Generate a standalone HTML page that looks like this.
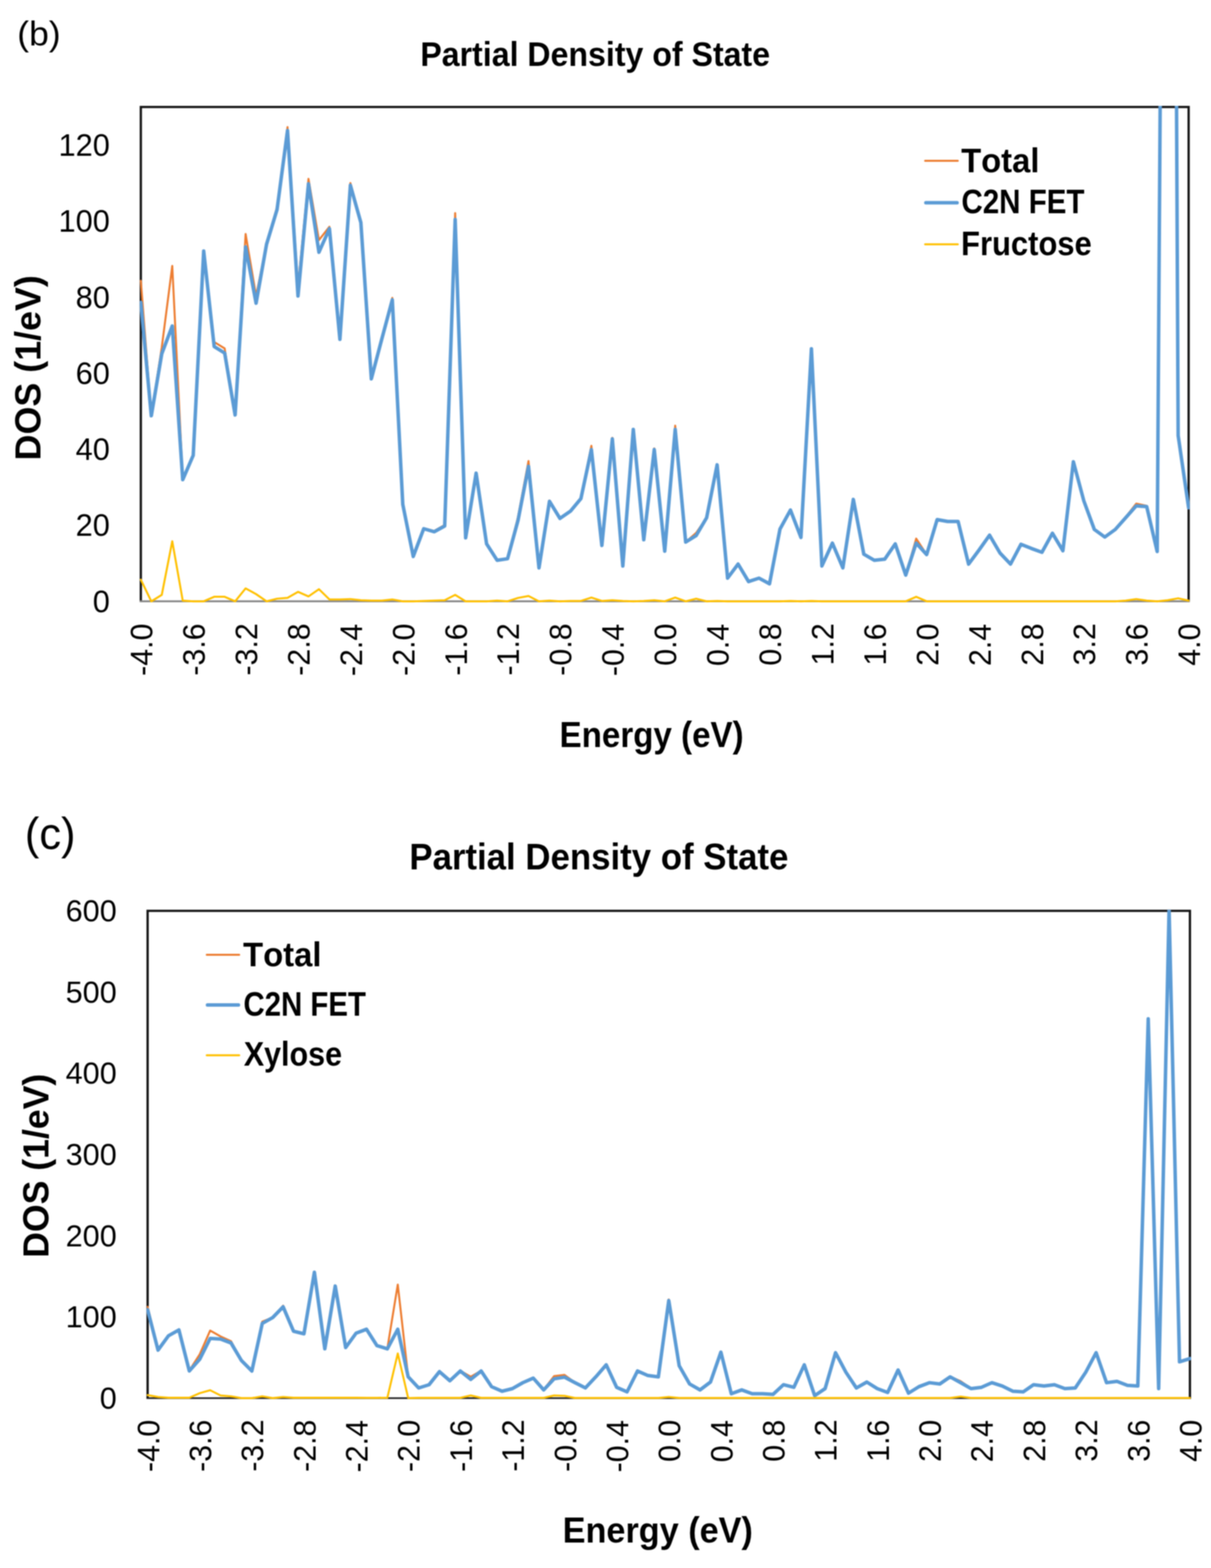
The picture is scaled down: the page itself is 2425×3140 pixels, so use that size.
<!DOCTYPE html>
<html><head><meta charset="utf-8"><title>Partial Density of State</title>
<style>html,body{margin:0;padding:0;background:#fff;}svg{display:block;filter:blur(1px);} text{font-family:'Liberation Sans', Arial, sans-serif;font-kerning:none;fill:#000;}</style>
</head><body>
<svg width="2425" height="3140" viewBox="0 0 2425 3140">
<rect width="2425" height="3140" fill="#fff"/>
<clipPath id="cb"><rect x="279.70" y="211.90" width="2102.80" height="1004.30"/></clipPath>
<path d="M282.00 1204.20V214.20H2380.20V1204.20" fill="none" stroke="#141414" stroke-width="4.60" stroke-linejoin="miter"/>
<line x1="279.70" y1="1204.20" x2="2382.50" y2="1204.20" stroke="#878787" stroke-width="3.80"/>
<g clip-path="url(#cb)" fill="none" stroke-linejoin="round" stroke-linecap="round">
<polyline points="282.00,562.22 302.98,832.57 323.96,695.49 344.95,532.52 365.93,958.98 386.91,911.77 407.89,502.82 428.87,684.83 449.86,697.78 470.84,831.05 491.82,468.55 512.80,592.68 533.78,489.12 554.77,414.48 575.75,254.56 596.73,573.65 617.71,358.13 638.69,480.74 659.68,454.08 680.66,675.69 701.64,366.51 722.62,443.42 743.60,757.18 764.59,677.22 785.57,596.49 806.55,1010.01 827.53,1114.34 848.51,1057.98 869.50,1063.32 890.48,1051.13 911.46,426.67 932.44,1077.02 953.42,947.56 974.41,1089.21 995.39,1120.43 1016.37,1118.91 1037.35,1035.14 1058.33,923.19 1079.32,1137.18 1100.30,1002.39 1121.28,1038.18 1142.26,1022.95 1163.24,997.82 1184.23,892.73 1205.21,1091.49 1226.19,876.74 1247.17,1132.62 1268.15,859.98 1289.14,1080.07 1310.12,898.06 1331.10,1103.68 1352.08,852.37 1373.06,1085.40 1394.05,1067.12 1415.03,1036.66 1436.01,930.05 1456.99,1157.75 1477.97,1129.57 1498.96,1164.60 1519.94,1157.75 1540.92,1169.17 1561.90,1059.51 1582.88,1020.67 1603.87,1076.26 1624.85,697.78 1645.83,1133.38 1666.81,1087.68 1687.79,1137.18 1708.78,1000.11 1729.76,1109.77 1750.74,1121.95 1771.72,1119.67 1792.70,1089.21 1813.69,1151.65 1834.67,1078.55 1855.65,1110.53 1876.63,1040.47 1897.61,1044.28 1918.60,1044.28 1939.58,1129.57 1960.56,1101.39 1981.54,1071.69 2002.52,1107.48 2023.51,1129.57 2044.49,1089.97 2065.47,1098.35 2086.45,1105.96 2107.43,1067.88 2128.42,1102.92 2149.40,924.72 2170.38,1003.15 2191.36,1060.27 2212.34,1075.50 2233.33,1060.27 2254.31,1035.14 2275.29,1008.48 2296.27,1013.05 2317.25,1104.44 2323.60,150.00 2355.70,150.00 2359.22,866.08 2380.20,1015.34" stroke="#ED7D31" stroke-width="4.0"/>
<polyline points="282.00,605.63 302.98,832.57 323.96,708.44 344.95,652.85 365.93,960.51 386.91,911.77 407.89,502.82 428.87,693.97 449.86,706.92 470.84,831.05 491.82,494.45 512.80,607.15 533.78,489.12 554.77,419.82 575.75,261.42 596.73,592.68 617.71,368.03 638.69,505.11 659.68,457.89 680.66,679.50 701.64,371.08 722.62,445.71 743.60,758.70 764.59,678.74 785.57,600.30 806.55,1010.01 827.53,1114.34 848.51,1058.75 869.50,1064.84 890.48,1053.42 911.46,439.62 932.44,1077.02 953.42,947.56 974.41,1089.21 995.39,1121.95 1016.37,1118.91 1037.35,1041.99 1058.33,933.85 1079.32,1137.18 1100.30,1003.92 1121.28,1038.18 1142.26,1023.72 1163.24,998.58 1184.23,900.35 1205.21,1092.25 1226.19,879.02 1247.17,1133.38 1268.15,859.98 1289.14,1080.83 1310.12,900.35 1331.10,1103.68 1352.08,859.98 1373.06,1085.40 1394.05,1072.45 1415.03,1036.66 1436.01,930.81 1456.99,1157.75 1477.97,1129.57 1498.96,1164.60 1519.94,1157.75 1540.92,1169.17 1561.90,1059.51 1582.88,1021.43 1603.87,1076.26 1624.85,698.54 1645.83,1133.38 1666.81,1087.68 1687.79,1137.18 1708.78,1000.11 1729.76,1109.77 1750.74,1121.95 1771.72,1119.67 1792.70,1089.21 1813.69,1151.65 1834.67,1087.68 1855.65,1110.53 1876.63,1040.47 1897.61,1044.28 1918.60,1044.28 1939.58,1129.57 1960.56,1101.39 1981.54,1071.69 2002.52,1107.48 2023.51,1129.57 2044.49,1089.97 2065.47,1098.35 2086.45,1105.96 2107.43,1067.88 2128.42,1102.92 2149.40,924.72 2170.38,1003.15 2191.36,1060.27 2212.34,1075.50 2233.33,1060.27 2254.31,1036.66 2275.29,1013.05 2296.27,1014.58 2317.25,1104.44 2323.60,150.00 2355.70,150.00 2359.22,872.17 2380.20,1016.86" stroke="#5B9BD5" stroke-width="7.0"/>
<polyline points="282.00,1160.79 302.98,1204.20 323.96,1191.25 344.95,1083.88 365.93,1202.68 386.91,1204.20 407.89,1204.20 428.87,1195.06 449.86,1195.06 470.84,1204.20 491.82,1178.31 512.80,1189.73 533.78,1204.20 554.77,1198.87 575.75,1197.35 596.73,1185.16 617.71,1194.30 638.69,1179.83 659.68,1200.39 680.66,1200.39 701.64,1199.63 722.62,1201.92 743.60,1202.68 764.59,1202.68 785.57,1200.39 806.55,1204.20 827.53,1204.20 848.51,1203.44 869.50,1202.68 890.48,1201.92 911.46,1191.25 932.44,1204.20 953.42,1204.20 974.41,1204.20 995.39,1202.68 1016.37,1204.20 1037.35,1197.35 1058.33,1193.54 1079.32,1204.20 1100.30,1202.68 1121.28,1204.20 1142.26,1203.44 1163.24,1203.44 1184.23,1196.58 1205.21,1203.44 1226.19,1201.92 1247.17,1203.44 1268.15,1204.20 1289.14,1203.44 1310.12,1201.92 1331.10,1204.20 1352.08,1196.58 1373.06,1204.20 1394.05,1198.87 1415.03,1204.20 1436.01,1203.44 1456.99,1204.20 1477.97,1204.20 1498.96,1204.20 1519.94,1204.20 1540.92,1204.20 1561.90,1204.20 1582.88,1203.44 1603.87,1204.20 1624.85,1203.44 1645.83,1204.20 1666.81,1204.20 1687.79,1204.20 1708.78,1204.20 1729.76,1204.20 1750.74,1204.20 1771.72,1204.20 1792.70,1204.20 1813.69,1204.20 1834.67,1195.06 1855.65,1204.20 1876.63,1204.20 1897.61,1204.20 1918.60,1204.20 1939.58,1204.20 1960.56,1204.20 1981.54,1204.20 2002.52,1204.20 2023.51,1204.20 2044.49,1204.20 2065.47,1204.20 2086.45,1204.20 2107.43,1204.20 2128.42,1204.20 2149.40,1204.20 2170.38,1204.20 2191.36,1204.20 2212.34,1204.20 2233.33,1204.20 2254.31,1202.68 2275.29,1199.63 2296.27,1202.68 2317.25,1204.20 2338.24,1201.92 2359.22,1198.11 2380.20,1202.68" stroke="#FFC000" stroke-width="4.0"/>
</g>
<clipPath id="cc"><rect x="293.30" y="1821.70" width="2091.80" height="990.10"/></clipPath>
<path d="M295.60 2799.80V1824.00H2382.80V2799.80" fill="none" stroke="#141414" stroke-width="4.60" stroke-linejoin="miter"/>
<line x1="293.30" y1="2799.80" x2="2385.10" y2="2799.80" stroke="#1a1a1a" stroke-width="3.20"/>
<g clip-path="url(#cc)" fill="none" stroke-linejoin="round" stroke-linecap="round">
<polyline points="295.60,2616.84 316.47,2701.41 337.34,2674.25 358.22,2662.37 379.09,2744.67 399.96,2711.98 420.83,2664.49 441.70,2676.20 462.58,2685.79 483.45,2724.50 504.32,2745.48 525.19,2646.60 546.06,2638.47 566.94,2614.72 587.81,2664.98 608.68,2670.18 629.55,2546.91 650.42,2700.27 671.30,2574.55 692.17,2697.67 713.04,2668.88 733.91,2661.40 754.78,2694.09 775.66,2700.27 796.53,2572.44 817.40,2757.19 838.27,2778.98 859.14,2772.48 880.02,2746.29 900.89,2764.51 921.76,2744.99 942.63,2757.03 963.50,2744.99 984.38,2776.38 1005.25,2785.49 1026.12,2780.28 1046.99,2768.41 1067.86,2759.30 1088.74,2782.89 1109.61,2755.73 1130.48,2753.29 1151.35,2768.57 1172.22,2779.15 1193.10,2756.86 1213.97,2732.80 1234.84,2777.84 1255.71,2786.95 1276.58,2745.16 1297.46,2754.26 1318.33,2756.86 1339.20,2602.20 1360.07,2734.58 1380.94,2771.18 1401.82,2783.05 1422.69,2767.27 1443.56,2707.42 1464.43,2790.69 1485.30,2783.05 1506.18,2790.69 1527.05,2790.69 1547.92,2791.99 1568.79,2772.64 1589.66,2777.84 1610.54,2732.80 1631.41,2794.60 1652.28,2780.45 1673.15,2708.56 1694.02,2747.76 1714.90,2779.15 1735.77,2767.27 1756.64,2780.45 1777.51,2788.09 1798.38,2743.20 1819.26,2789.55 1840.13,2776.54 1861.00,2768.57 1881.87,2771.18 1902.74,2756.86 1923.62,2765.81 1944.49,2780.45 1965.36,2777.84 1986.23,2768.57 2007.10,2775.24 2027.98,2785.65 2048.85,2786.95 2069.72,2772.64 2090.59,2775.24 2111.46,2772.64 2132.34,2780.45 2153.21,2779.15 2174.08,2747.76 2194.95,2708.56 2215.82,2768.57 2236.70,2765.97 2257.57,2773.94 2278.44,2775.24 2299.31,2039.98 2320.18,2780.45 2341.06,1820.42 2361.93,2726.78 2382.80,2720.27" stroke="#ED7D31" stroke-width="4.0"/>
<polyline points="295.60,2622.85 316.47,2703.68 337.34,2675.06 358.22,2663.19 379.09,2745.48 399.96,2721.90 420.83,2680.26 441.70,2681.57 462.58,2689.37 483.45,2724.50 504.32,2745.48 525.19,2650.18 546.06,2638.47 566.94,2617.00 587.81,2665.79 608.68,2670.99 629.55,2547.72 650.42,2701.08 671.30,2575.37 692.17,2698.48 713.04,2669.69 733.91,2661.89 754.78,2694.58 775.66,2701.08 796.53,2661.89 817.40,2757.19 838.27,2779.47 859.14,2772.97 880.02,2746.78 900.89,2765.00 921.76,2745.48 942.63,2762.39 963.50,2745.48 984.38,2776.87 1005.25,2785.98 1026.12,2780.77 1046.99,2768.90 1067.86,2759.79 1088.74,2783.37 1109.61,2761.09 1130.48,2757.84 1151.35,2768.90 1172.22,2779.47 1193.10,2757.19 1213.97,2733.12 1234.84,2778.17 1255.71,2787.28 1276.58,2745.48 1297.46,2754.59 1318.33,2757.19 1339.20,2604.48 1360.07,2734.91 1380.94,2771.50 1401.82,2783.37 1422.69,2767.60 1443.56,2707.75 1464.43,2791.02 1485.30,2783.37 1506.18,2791.02 1527.05,2791.02 1547.92,2792.32 1568.79,2772.97 1589.66,2778.17 1610.54,2733.12 1631.41,2794.92 1652.28,2780.77 1673.15,2708.89 1694.02,2748.08 1714.90,2779.47 1735.77,2767.60 1756.64,2780.77 1777.51,2788.42 1798.38,2743.53 1819.26,2789.88 1840.13,2776.87 1861.00,2768.90 1881.87,2771.50 1902.74,2757.19 1923.62,2768.90 1944.49,2780.77 1965.36,2778.17 1986.23,2768.90 2007.10,2775.57 2027.98,2785.98 2048.85,2787.28 2069.72,2772.97 2090.59,2775.57 2111.46,2772.97 2132.34,2780.77 2153.21,2779.47 2174.08,2748.08 2194.95,2708.89 2215.82,2768.90 2236.70,2766.30 2257.57,2774.27 2278.44,2775.57 2299.31,2040.30 2320.18,2780.77 2341.06,1820.75 2361.93,2727.10 2382.80,2720.60" stroke="#5B9BD5" stroke-width="7.0"/>
<polyline points="295.60,2793.78 316.47,2797.52 337.34,2798.99 358.22,2798.99 379.09,2798.99 399.96,2789.88 420.83,2784.02 441.70,2794.43 462.58,2796.22 483.45,2799.80 504.32,2799.80 525.19,2796.22 546.06,2799.80 566.94,2797.52 587.81,2798.99 608.68,2798.99 629.55,2798.99 650.42,2798.99 671.30,2798.99 692.17,2798.99 713.04,2798.99 733.91,2799.31 754.78,2799.31 775.66,2798.99 796.53,2710.35 817.40,2799.80 838.27,2799.31 859.14,2799.31 880.02,2799.31 900.89,2799.31 921.76,2799.31 942.63,2794.43 963.50,2799.31 984.38,2799.31 1005.25,2799.31 1026.12,2799.31 1046.99,2799.31 1067.86,2799.31 1088.74,2799.31 1109.61,2794.43 1130.48,2795.25 1151.35,2799.47 1172.22,2799.47 1193.10,2799.47 1213.97,2799.47 1234.84,2799.47 1255.71,2799.47 1276.58,2799.47 1297.46,2799.47 1318.33,2799.47 1339.20,2797.52 1360.07,2799.47 1380.94,2799.47 1401.82,2799.47 1422.69,2799.47 1443.56,2799.47 1464.43,2799.47 1485.30,2799.47 1506.18,2799.47 1527.05,2799.47 1547.92,2799.47 1568.79,2799.47 1589.66,2799.47 1610.54,2799.47 1631.41,2799.47 1652.28,2799.47 1673.15,2799.47 1694.02,2799.47 1714.90,2799.47 1735.77,2799.47 1756.64,2799.47 1777.51,2799.47 1798.38,2799.47 1819.26,2799.47 1840.13,2799.47 1861.00,2799.47 1881.87,2799.47 1902.74,2799.47 1923.62,2796.71 1944.49,2799.47 1965.36,2799.47 1986.23,2799.47 2007.10,2799.47 2027.98,2799.47 2048.85,2799.47 2069.72,2799.47 2090.59,2799.47 2111.46,2799.47 2132.34,2799.47 2153.21,2799.47 2174.08,2799.47 2194.95,2799.47 2215.82,2799.47 2236.70,2799.47 2257.57,2799.47 2278.44,2799.47 2299.31,2799.47 2320.18,2799.47 2341.06,2799.47 2361.93,2799.47 2382.80,2799.47" stroke="#FFC000" stroke-width="4.0"/>
</g>
<line x1="1852.50" y1="322.00" x2="1918.00" y2="322.00" stroke="#ED7D31" stroke-width="4.0" stroke-linecap="round"/>
<line x1="1854.00" y1="406.00" x2="1916.50" y2="406.00" stroke="#5B9BD5" stroke-width="7.0" stroke-linecap="round"/>
<line x1="1852.50" y1="489.30" x2="1918.00" y2="489.30" stroke="#FFC000" stroke-width="4.0" stroke-linecap="round"/>
<line x1="414.00" y1="1912.00" x2="479.00" y2="1912.00" stroke="#ED7D31" stroke-width="4.0" stroke-linecap="round"/>
<line x1="415.50" y1="2012.40" x2="477.50" y2="2012.40" stroke="#5B9BD5" stroke-width="7.0" stroke-linecap="round"/>
<line x1="414.00" y1="2113.30" x2="479.00" y2="2113.30" stroke="#FFC000" stroke-width="4.0" stroke-linecap="round"/>
<text transform="translate(34.60 90.80) scale(1.0339 1)" font-size="68.70" font-weight="normal">(b)</text>
<text transform="translate(49.70 1700.00) scale(0.9715 1)" font-size="89.60" font-weight="normal">(c)</text>
<text transform="translate(841.70 132.20) scale(0.9334 1)" font-size="68.90" font-weight="bold">Partial Density of State</text>
<text transform="translate(819.64 1741.10) scale(0.9420 1)" font-size="74.00" font-weight="bold">Partial Density of State</text>
<text transform="translate(185.71 1225.77) scale(0.9806 1)" font-size="62.70" font-weight="normal">0</text>
<text transform="translate(151.51 1073.46) scale(0.9806 1)" font-size="62.70" font-weight="normal">20</text>
<text transform="translate(151.51 921.15) scale(0.9806 1)" font-size="62.70" font-weight="normal">40</text>
<text transform="translate(151.51 768.85) scale(0.9806 1)" font-size="62.70" font-weight="normal">60</text>
<text transform="translate(151.51 616.54) scale(0.9806 1)" font-size="62.70" font-weight="normal">80</text>
<text transform="translate(117.32 464.23) scale(0.9806 1)" font-size="62.70" font-weight="normal">100</text>
<text transform="translate(117.32 311.92) scale(0.9806 1)" font-size="62.70" font-weight="normal">120</text>
<text transform="translate(199.66 2820.78) scale(1.0032 1)" font-size="61.00" font-weight="normal">0</text>
<text transform="translate(131.59 2658.15) scale(1.0032 1)" font-size="61.00" font-weight="normal">100</text>
<text transform="translate(131.59 2495.52) scale(1.0032 1)" font-size="61.00" font-weight="normal">200</text>
<text transform="translate(131.59 2332.88) scale(1.0032 1)" font-size="61.00" font-weight="normal">300</text>
<text transform="translate(131.59 2170.25) scale(1.0032 1)" font-size="61.00" font-weight="normal">400</text>
<text transform="translate(131.59 2007.62) scale(1.0032 1)" font-size="61.00" font-weight="normal">500</text>
<text transform="translate(131.59 1844.98) scale(1.0032 1)" font-size="61.00" font-weight="normal">600</text>
<text transform="translate(305.07 1353.40) rotate(-90) scale(0.9642 1)" font-size="63.00" font-weight="normal">-4.0</text>
<text transform="translate(409.98 1353.10) rotate(-90) scale(0.9642 1)" font-size="63.00" font-weight="normal">-3.6</text>
<text transform="translate(514.89 1352.72) rotate(-90) scale(0.9642 1)" font-size="63.00" font-weight="normal">-3.2</text>
<text transform="translate(619.80 1353.13) rotate(-90) scale(0.9642 1)" font-size="63.00" font-weight="normal">-2.8</text>
<text transform="translate(724.71 1353.99) rotate(-90) scale(0.9642 1)" font-size="63.00" font-weight="normal">-2.4</text>
<text transform="translate(829.62 1353.40) rotate(-90) scale(0.9642 1)" font-size="63.00" font-weight="normal">-2.0</text>
<text transform="translate(934.53 1353.10) rotate(-90) scale(0.9642 1)" font-size="63.00" font-weight="normal">-1.6</text>
<text transform="translate(1039.44 1352.72) rotate(-90) scale(0.9642 1)" font-size="63.00" font-weight="normal">-1.2</text>
<text transform="translate(1144.35 1353.13) rotate(-90) scale(0.9642 1)" font-size="63.00" font-weight="normal">-0.8</text>
<text transform="translate(1249.26 1353.99) rotate(-90) scale(0.9642 1)" font-size="63.00" font-weight="normal">-0.4</text>
<text transform="translate(1354.17 1333.17) rotate(-90) scale(0.9642 1)" font-size="63.00" font-weight="normal">0.0</text>
<text transform="translate(1459.08 1333.76) rotate(-90) scale(0.9642 1)" font-size="63.00" font-weight="normal">0.4</text>
<text transform="translate(1563.99 1332.90) rotate(-90) scale(0.9642 1)" font-size="63.00" font-weight="normal">0.8</text>
<text transform="translate(1668.90 1332.49) rotate(-90) scale(0.9642 1)" font-size="63.00" font-weight="normal">1.2</text>
<text transform="translate(1773.81 1332.87) rotate(-90) scale(0.9642 1)" font-size="63.00" font-weight="normal">1.6</text>
<text transform="translate(1878.72 1333.17) rotate(-90) scale(0.9642 1)" font-size="63.00" font-weight="normal">2.0</text>
<text transform="translate(1983.63 1333.76) rotate(-90) scale(0.9642 1)" font-size="63.00" font-weight="normal">2.4</text>
<text transform="translate(2088.54 1332.90) rotate(-90) scale(0.9642 1)" font-size="63.00" font-weight="normal">2.8</text>
<text transform="translate(2193.45 1332.49) rotate(-90) scale(0.9642 1)" font-size="63.00" font-weight="normal">3.2</text>
<text transform="translate(2298.36 1332.87) rotate(-90) scale(0.9642 1)" font-size="63.00" font-weight="normal">3.6</text>
<text transform="translate(2403.27 1333.17) rotate(-90) scale(0.9642 1)" font-size="63.00" font-weight="normal">4.0</text>
<text transform="translate(318.67 2947.80) rotate(-90) scale(0.9632 1)" font-size="63.00" font-weight="normal">-4.0</text>
<text transform="translate(423.03 2947.50) rotate(-90) scale(0.9632 1)" font-size="63.00" font-weight="normal">-3.6</text>
<text transform="translate(527.39 2947.11) rotate(-90) scale(0.9632 1)" font-size="63.00" font-weight="normal">-3.2</text>
<text transform="translate(631.75 2947.53) rotate(-90) scale(0.9632 1)" font-size="63.00" font-weight="normal">-2.8</text>
<text transform="translate(736.11 2948.39) rotate(-90) scale(0.9632 1)" font-size="63.00" font-weight="normal">-2.4</text>
<text transform="translate(840.47 2947.80) rotate(-90) scale(0.9632 1)" font-size="63.00" font-weight="normal">-2.0</text>
<text transform="translate(944.83 2947.50) rotate(-90) scale(0.9632 1)" font-size="63.00" font-weight="normal">-1.6</text>
<text transform="translate(1049.19 2947.11) rotate(-90) scale(0.9632 1)" font-size="63.00" font-weight="normal">-1.2</text>
<text transform="translate(1153.55 2947.53) rotate(-90) scale(0.9632 1)" font-size="63.00" font-weight="normal">-0.8</text>
<text transform="translate(1257.91 2948.39) rotate(-90) scale(0.9632 1)" font-size="63.00" font-weight="normal">-0.4</text>
<text transform="translate(1362.27 2927.59) rotate(-90) scale(0.9632 1)" font-size="63.00" font-weight="normal">0.0</text>
<text transform="translate(1466.63 2928.18) rotate(-90) scale(0.9632 1)" font-size="63.00" font-weight="normal">0.4</text>
<text transform="translate(1570.99 2927.32) rotate(-90) scale(0.9632 1)" font-size="63.00" font-weight="normal">0.8</text>
<text transform="translate(1675.35 2926.91) rotate(-90) scale(0.9632 1)" font-size="63.00" font-weight="normal">1.2</text>
<text transform="translate(1779.71 2927.29) rotate(-90) scale(0.9632 1)" font-size="63.00" font-weight="normal">1.6</text>
<text transform="translate(1884.07 2927.59) rotate(-90) scale(0.9632 1)" font-size="63.00" font-weight="normal">2.0</text>
<text transform="translate(1988.43 2928.18) rotate(-90) scale(0.9632 1)" font-size="63.00" font-weight="normal">2.4</text>
<text transform="translate(2092.79 2927.32) rotate(-90) scale(0.9632 1)" font-size="63.00" font-weight="normal">2.8</text>
<text transform="translate(2197.15 2926.91) rotate(-90) scale(0.9632 1)" font-size="63.00" font-weight="normal">3.2</text>
<text transform="translate(2301.51 2927.29) rotate(-90) scale(0.9632 1)" font-size="63.00" font-weight="normal">3.6</text>
<text transform="translate(2405.87 2927.59) rotate(-90) scale(0.9632 1)" font-size="63.00" font-weight="normal">4.0</text>
<text transform="translate(80.80 921.90) rotate(-90) scale(0.9871 1)" font-size="72.70" font-weight="bold">DOS (1/eV)</text>
<text transform="translate(96.50 2518.87) rotate(-90) scale(0.9817 1)" font-size="72.70" font-weight="bold">DOS (1/eV)</text>
<text transform="translate(1120.46 1495.90) scale(0.9165 1)" font-size="72.40" font-weight="bold">Energy (eV)</text>
<text transform="translate(1126.71 3089.10) scale(0.9522 1)" font-size="72.00" font-weight="bold">Energy (eV)</text>
<text transform="translate(1924.66 344.60) scale(0.9610 1)" font-size="68.30" font-weight="bold">Total</text>
<text transform="translate(1925.17 426.80) scale(0.8663 1)" font-size="68.30" font-weight="bold">C2N FET</text>
<text transform="translate(1924.55 511.30) scale(0.9075 1)" font-size="68.30" font-weight="bold">Fructose</text>
<text transform="translate(486.86 1934.60) scale(0.9610 1)" font-size="68.30" font-weight="bold">Total</text>
<text transform="translate(487.38 2034.40) scale(0.8624 1)" font-size="68.30" font-weight="bold">C2N FET</text>
<text transform="translate(488.16 2134.20) scale(0.8933 1)" font-size="68.30" font-weight="bold">Xylose</text>
</svg>
</body></html>
